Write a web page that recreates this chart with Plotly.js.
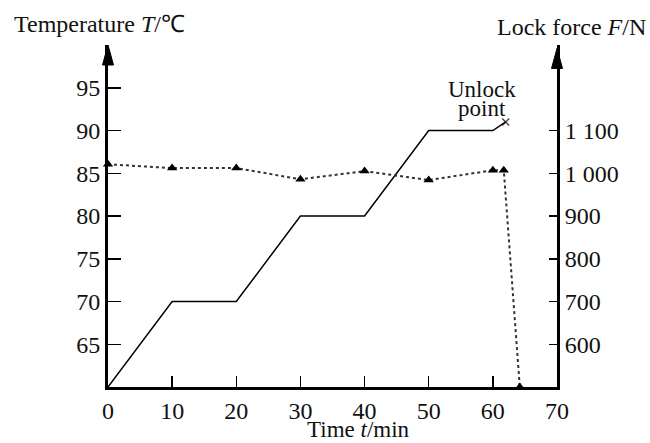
<!DOCTYPE html>
<html>
<head>
<meta charset="utf-8">
<script src="https://cdn.plot.ly/plotly-3.0.1.min.js"></script>
<style>html,body{margin:0;padding:0;background:#fff;}#chart{width:650px;height:443px;}</style>
</head>
<body>
<div id="chart"></div>
<script>
// Temperature series (solid line, left axis)
const tempTime = [0, 10, 20, 30, 40, 50, 60, 62];
const tempValue = [60, 70, 70, 80, 80, 90, 90, 91];
// Lock force series (dotted line with triangles, right axis)
const forceTime = [0, 10, 20, 30, 40, 50, 60, 61.7, 64.2];
const forceValue = [1021, 1012, 1012, 986, 1005, 984, 1007, 1007, 500];
// Tick labels
const xTicks = [0, 10, 20, 30, 40, 50, 60, 70];
const tempTicks = [65, 70, 75, 80, 85, 90, 95];
const forceTicks = [600, 700, 800, 900, 1000, 1100];
const forceTickText = ['600', '700', '800', '900', '1 000', '1 100'];
const unlockLabel = ['Unlock', 'point'];

const FONT = 'Liberation Serif, Times New Roman, serif';
const fs = 24;

const tempTrace = {
  x: tempTime, y: tempValue, type: 'scatter', mode: 'lines+markers',
  line: {color: '#000', width: 1.5},
  marker: {symbol: 'x-thin', size: tempTime.map((t, i) => i === tempTime.length - 1 ? 7 : 0),
           line: {color: '#000', width: 1.5}, color: '#000'},
  cliponaxis: false, yaxis: 'y', hoverinfo: 'skip'
};
const forceTrace = {
  x: forceTime, y: forceValue, type: 'scatter', mode: 'lines+markers',
  line: {color: '#333', width: 2, dash: 'dot'},
  marker: {symbol: 'triangle-up', size: 9, color: '#000'},
  cliponaxis: false, yaxis: 'y2', hoverinfo: 'skip'
};

const hw = 5.5 / 449, ah = 20 / 342;
const layout = {
  width: 650, height: 443,
  margin: {l: 108, r: 93, t: 45, b: 56},
  paper_bgcolor: '#fff', plot_bgcolor: '#fff',
  showlegend: false,
  font: {family: FONT, size: fs, color: '#111'},
  xaxis: {
    range: [0, 70], tickvals: xTicks, ticktext: xTicks.map(String),
    ticks: 'inside', ticklen: 11, tickwidth: 1.5, tickcolor: '#000',
    showline: true, linewidth: 3, linecolor: '#000', showgrid: false, zeroline: false,
    tickfont: {family: FONT, size: fs}
  },
  yaxis: {
    range: [60, 100], tickvals: tempTicks, ticktext: tempTicks.map(String),
    ticks: 'inside', ticklen: 13, tickwidth: 1.5, tickcolor: '#000',
    showline: true, linewidth: 3, linecolor: '#000', showgrid: false, zeroline: false,
    tickfont: {family: FONT, size: fs}
  },
  yaxis2: {
    range: [500, 1300], overlaying: 'y', side: 'right',
    tickvals: forceTicks, ticktext: forceTickText,
    ticks: 'inside', ticklen: 8, tickwidth: 1.5, tickcolor: '#000',
    showline: true, linewidth: 3, linecolor: '#000', showgrid: false, zeroline: false,
    tickfont: {family: FONT, size: fs}
  },
  shapes: [
    {type: 'path', xref: 'paper', yref: 'paper',
     path: `M ${-hw} ${1 - ah} L 0 1 L ${hw} ${1 - ah} Z`,
     fillcolor: '#000', line: {color: '#000', width: 1}},
    {type: 'path', xref: 'paper', yref: 'paper',
     path: `M ${1 - hw} ${1 - ah - 0.01} L 1 ${0.99} L ${1 + hw} ${1 - ah - 0.01} Z`,
     fillcolor: '#000', line: {color: '#000', width: 1}}
  ],
  annotations: [
    {xref: 'paper', yref: 'paper', x: -0.2138, y: 1.0614, xanchor: 'left', yanchor: 'middle',
     text: 'Temperature <i>T</i>/℃', showarrow: false, font: {family: FONT, size: fs, color: '#111'}},
    {xref: 'paper', yref: 'paper', x: 1.2027, y: 1.0526, xanchor: 'right', yanchor: 'middle',
     text: 'Lock force <i>F</i>/N', showarrow: false, font: {family: FONT, size: fs, color: '#111'}},
    {xref: 'paper', yref: 'paper', x: 0.5568, y: -0.1637, xanchor: 'center', yanchor: 'bottom',
     text: 'Time <i>t</i>/min', showarrow: false, borderpad: 0,
     font: {family: FONT, size: 23, color: '#111'}},
    {xref: 'x', yref: 'paper', x: 58.3, y: 0.871, xanchor: 'center', yanchor: 'middle',
     text: unlockLabel[0], showarrow: false, font: {family: FONT, size: 23, color: '#111'}},
    {xref: 'x', yref: 'paper', x: 58.3, y: 0.813, xanchor: 'center', yanchor: 'middle',
     text: unlockLabel[1], showarrow: false, font: {family: FONT, size: 23, color: '#111'}}
  ]
};

Plotly.newPlot('chart', [tempTrace, forceTrace], layout, {displayModeBar: false, staticPlot: true});
</script>
</body>
</html>
